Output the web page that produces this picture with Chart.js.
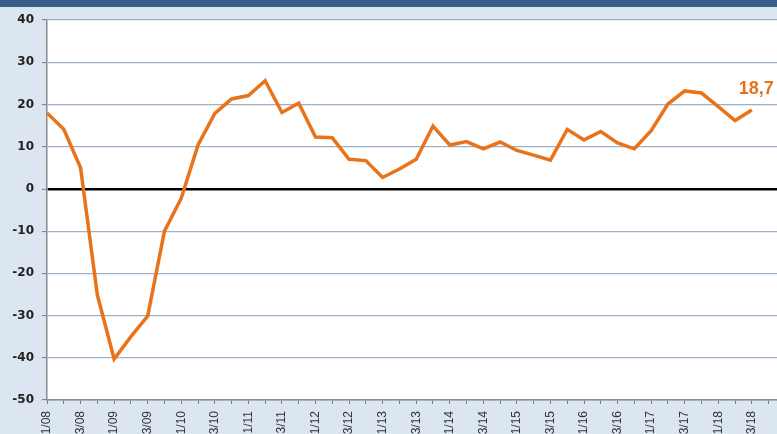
<!DOCTYPE html>
<html>
<head>
<meta charset="utf-8">
<script src="https://cdn.jsdelivr.net/npm/chart.js@4.4.1/dist/chart.umd.min.js"></script>
<style>
  html, body { margin: 0; padding: 0; background: #dce6f1; }
  #wrap { position: relative; width: 777px; height: 434px; overflow: hidden; }
  #topbar { position: absolute; left: 0; top: 0; width: 777px; height: 7px; background: #3a5e8c; z-index: 2; }
  #box { position: absolute; left: 0; top: 0; width: 777px; height: 460px; }
</style>
</head>
<body>
<div id="wrap">
  <div id="topbar"></div>
  <div id="box"><canvas id="chart" width="777" height="460"></canvas></div>
</div>
<script>
// quarterly values, 1/08 .. 3/18
const values = [
  18.0, 14.1, 5.0, -25.1,
  -40.3, -35.0, -30.1, -10.0,
  -2.2, 10.4, 17.9, 21.3,
  22.1, 25.6, 18.1, 20.3,
  12.3, 12.1, 7.0, 6.7,
  2.7, 4.7, 7.0, 14.9,
  10.4, 11.2, 9.5, 11.1,
  9.1, 8.0, 6.8, 14.1,
  11.6, 13.6, 10.9, 9.5,
  13.8, 20.1, 23.2, 22.7,
  19.5, 16.2, 18.7
];

// labels shown on every second quarter
const tickLabels = [
  '1/08', '3/08', '1/09', '3/09', '1/10', '3/10', '1/11', '3/11',
  '1/12', '3/12', '1/13', '3/13', '1/14', '3/14', '1/15', '3/15',
  '1/16', '3/16', '1/17', '3/17', '1/18', '3/18'
];

const yTicks = [-50, -40, -30, -20, -10, 0, 10, 20, 30, 40];

const points = values.map((v, i) => ({ x: i, y: v }));

const plotBg = {
  id: 'plotBg',
  beforeDraw(chart) {
    const a = chart.chartArea;
    const ctx = chart.ctx;
    ctx.save();
    ctx.fillStyle = '#ffffff';
    ctx.fillRect(a.left, a.top, a.right - a.left, a.bottom - a.top);
    ctx.restore();
  }
};

const lastLabel = {
  id: 'lastLabel',
  afterDatasetsDraw(chart) {
    const meta = chart.getDatasetMeta(0);
    const pt = meta.data[meta.data.length - 1];
    const ctx = chart.ctx;
    ctx.save();
    ctx.fillStyle = '#e8731a';
    ctx.font = 'bold 18px "Liberation Sans", Arial, sans-serif';
    ctx.textAlign = 'left';
    ctx.textBaseline = 'middle';
    ctx.fillText(values[values.length - 1].toFixed(1).replace('.', ','), pt.x - 13, pt.y - 21);
    ctx.restore();
  }
};

new Chart(document.getElementById('chart').getContext('2d'), {
  type: 'line',
  data: {
    datasets: [{
      data: points,
      borderColor: '#e8731a',
      borderWidth: 3.5,
      pointRadius: 0,
      tension: 0,
      fill: false
    }]
  },
  options: {
    responsive: false,
    animation: false,
    events: [],
    layout: { padding: { top: 20, left: 0, right: 0, bottom: 0 } },
    plugins: { legend: { display: false }, tooltip: { enabled: false } },
    scales: {
      x: {
        type: 'linear',
        min: 0,
        max: 43.5,
        afterFit(s) { s.height = 60; s.paddingLeft = 0; s.paddingRight = 0; },
        border: { display: true, color: '#8a8a8a', width: 1.5 },
        grid: { drawOnChartArea: false, tickLength: 4, tickColor: '#7a7a7a', tickWidth: 1 },
        ticks: {
          stepSize: 1,
          includeBounds: false,
          autoSkip: false,
          minRotation: 90,
          maxRotation: 90,
          padding: 7,
          color: '#333333',
          font: { family: 'Liberation Sans', size: 12 },
          callback: (v) => (v % 2 === 0 ? (tickLabels[v / 2] || '') : '')
        }
      },
      y: {
        min: -50,
        max: 40,
        afterFit(s) { s.width = 47; },
        afterBuildTicks(s) { s.ticks = yTicks.map(v => ({ value: v })); },
        border: { display: true, color: '#8a8a8a', width: 1.5 },
        grid: {
          color: (c) => (c.tick && c.tick.value === 0 ? '#000000' : '#9cb0c8'),
          lineWidth: (c) => (c.tick && c.tick.value === 0 ? 2.5 : 1.2),
          tickLength: 5,
          tickColor: '#7a7a7a',
          tickWidth: 1
        },
        ticks: {
          padding: 8,
          color: '#222222',
          font: { family: 'DejaVu Sans', size: 12, weight: 'bold' }
        }
      }
    }
  },
  plugins: [plotBg, lastLabel]
});
</script>
</body>
</html>
